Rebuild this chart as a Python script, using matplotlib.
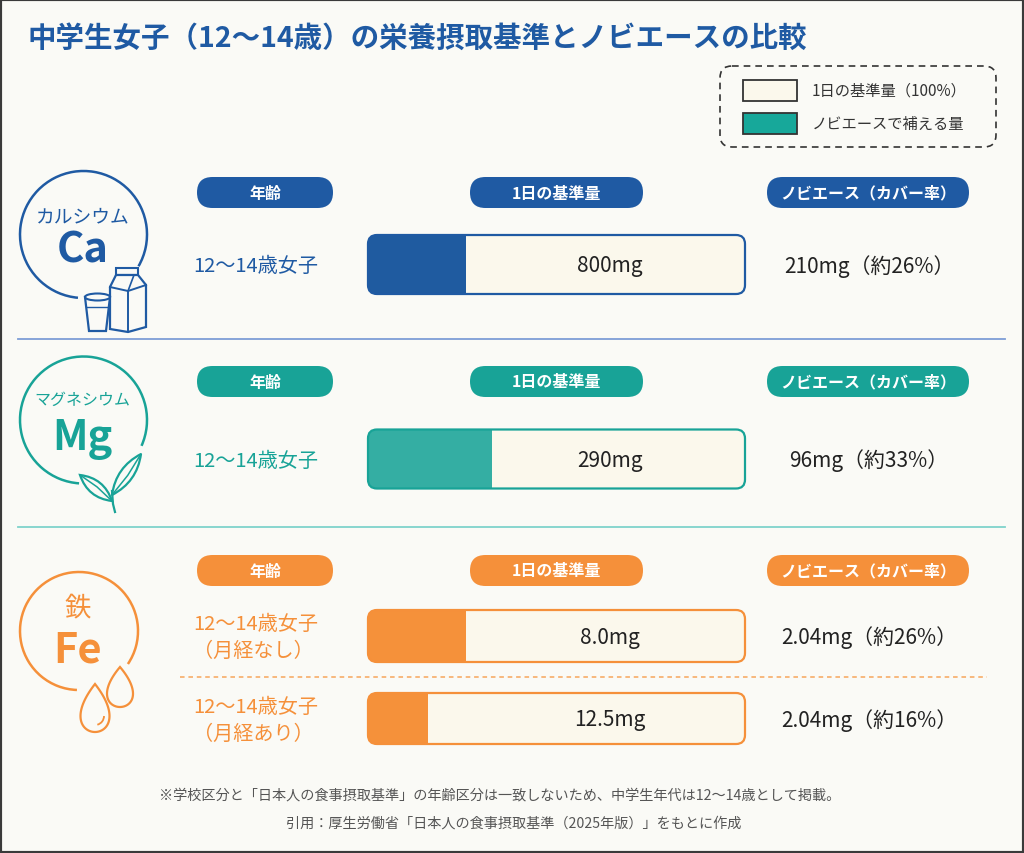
import numpy as np
import matplotlib.pyplot as plt
from matplotlib.patches import FancyBboxPatch, Arc, Rectangle, Polygon, Ellipse, PathPatch
from matplotlib.path import Path

plt.rcParams['font.family'] = ['Noto Sans CJK JP', 'DejaVu Sans']

# ---- data ----
title = '中学生女子（12～14歳）の栄養摂取基準とノビエースの比較'
nutrient_names = ['カルシウム', 'マグネシウム', '鉄']
nutrient_symbols = ['Ca', 'Mg', 'Fe']
header_labels = ['年齢', '1日の基準量', 'ノビエース（カバー率）']
row_nutrient = [0, 1, 2, 2]
row_labels = ['12～14歳女子', '12～14歳女子',
              '12～14歳女子\n（月経なし）', '12～14歳女子\n（月経あり）']
standard_text = ['800mg', '290mg', '8.0mg', '12.5mg']
noviace_mg = [210, 96, 2.04, 2.04]
coverage_pct = [26, 33, 26, 16]
legend_labels = ['1日の基準量（100%）', 'ノビエースで補える量']
notes = ['※学校区分と「日本人の食事摂取基準」の年齢区分は一致しないため、中学生年代は12～14歳として掲載。',
         '引用：厚生労働省「日本人の食事摂取基準（2025年版）」をもとに作成']

# ---- style ----
BG = '#FAFAF6'
CREAM = '#FBF8EC'
main_col = ['#1F5AA3', '#18A397', '#F5903A']
fill_col = ['#1F5BA0', '#34AEA3', '#F5913A']
line_col = ['#7D9DD6', '#7FD3CB', '#F7A65C']
TXT = '#222222'

fig = plt.figure(figsize=(10.24, 8.54), dpi=100)
fig.patch.set_facecolor(BG)
ax = fig.add_axes([0, 0, 1, 1])
ax.set_facecolor(BG)

# title
ax.text(27, 39, title, fontsize=20.5, fontweight='bold', color=main_col[0],
        ha='left', va='center')

# legend box
ax.add_patch(FancyBboxPatch((720, 67), 276, 81, boxstyle='round,pad=0,rounding_size=12',
                            fc='none', ec='#333333', lw=1.2, ls=(0, (4, 3))))
for i, (lab, fc) in enumerate(zip(legend_labels, [CREAM, '#17A89A'])):
    y = 91 + i * 33
    ax.add_patch(Rectangle((743, y - 10.5), 54, 21, fc=fc, ec='#333333', lw=1.3))
    ax.text(812, y, lab, fontsize=11, color='#333333', ha='left', va='center')

# header pills per section
pill_x = [(197, 333), (470, 643), (767, 969)]
pill_top = [178, 367, 556]
for g in range(3):
    for (x0, x1), lab in zip(pill_x, header_labels):
        ax.add_patch(FancyBboxPatch((x0, pill_top[g]), x1 - x0, 31,
                                    boxstyle='round,pad=0,rounding_size=15.5',
                                    fc=main_col[g], ec='none'))
        ax.text((x0 + x1) / 2, pill_top[g] + 15.5, lab, fontsize=11.5, fontweight='bold',
                color='white', ha='center', va='center')

# bars
bar_x0, bar_x1 = 368, 745
bar_w = bar_x1 - bar_x0
row_y = [265.5, 460, 637, 719.5]
row_h = [59, 59, 52, 51]
for i in range(len(row_labels)):
    g = row_nutrient[i]
    yc, h = row_y[i], row_h[i]
    track = FancyBboxPatch((bar_x0, yc - h / 2), bar_w, h,
                           boxstyle='round,pad=0,rounding_size=9', fc=CREAM, ec='none')
    ax.add_patch(track)
    bars = ax.barh(yc, coverage_pct[i] / 100 * bar_w, left=bar_x0, height=h,
                   color=fill_col[g], edgecolor='none')
    for b in bars:
        b.set_clip_path(track)
    ax.add_patch(FancyBboxPatch((bar_x0, yc - h / 2), bar_w, h,
                                boxstyle='round,pad=0,rounding_size=9',
                                fc='none', ec=main_col[g], lw=1.6))
    ax.text(610, yc + 1, standard_text[i], fontsize=15, color=TXT, ha='center', va='center')
    ax.text(869, yc + 1, f'{noviace_mg[i]:g}mg（約{coverage_pct[i]}%）', fontsize=15,
            color=TXT, ha='center', va='center')
    lines = row_labels[i].split('\n')
    for k, ln in enumerate(lines):
        ax.text(193, yc + 1 + (k - (len(lines) - 1) / 2) * 27, ln, fontsize=14.5,
                color=main_col[g], ha='left', va='center')

# section dividers
ax.plot([18, 1005], [339.5, 339.5], color=line_col[0], lw=1.3)
ax.plot([18, 1005], [528, 528], color=line_col[1], lw=1.3)
ax.plot([180, 987], [678, 678], color=line_col[2], lw=1.1, ls=(0, (3, 2.5)))

# nutrient badges
centers = [(83.5, 235.5), (83.5, 421), (79, 632)]
radii = [63.5, 63.5, 59]
gaps = [(30, 95), (24, 94), (34, 92)]
name_y = [217, 400, 608]
name_size = [13.5, 11.5, 19]
sym_base = [263, 450, 663]
for g in range(3):
    cx, cy = centers[g]
    r = radii[g]
    ax.add_patch(Arc((cx, cy), 2 * r, 2 * r, theta1=gaps[g][1], theta2=gaps[g][0] + 360,
                     color=main_col[g], lw=1.8))
    ax.text(cx - 1, name_y[g], nutrient_names[g], fontsize=name_size[g],
            color=main_col[g], ha='center', va='center')
    ax.text(cx - 1, sym_base[g], nutrient_symbols[g], fontsize=30, fontweight='bold',
            color=main_col[g], ha='center', va='baseline')

# milk carton + glass icon
c0 = main_col[0]
ax.add_patch(Rectangle((116, 269), 22, 7, fc=BG, ec=c0, lw=1.5))
ax.add_patch(Polygon([(110, 288), (116, 276), (138, 276), (146, 286), (146, 328),
                      (128, 333), (110, 330)], closed=True, fc=BG, ec=c0, lw=1.6))
ax.plot([110, 128, 146], [288, 292, 286], color=c0, lw=1.4)
ax.plot([128, 128], [292, 333], color=c0, lw=1.4)
ax.plot([128, 134], [292, 276], color=c0, lw=1.2)
ax.add_patch(Polygon([(85, 298), (110, 298), (106, 332), (89, 332)], closed=True,
                     fc=BG, ec=c0, lw=1.6))
ax.add_patch(Ellipse((97.5, 298), 25, 7, fc=BG, ec=c0, lw=1.5))
ax.plot([87, 108], [308, 308], color=c0, lw=1.0)


# leaf icon
def leaf(base, tip, w, col):
    b, t = np.array(base, float), np.array(tip, float)
    m = (b + t) / 2
    d = t - b
    n = np.array([-d[1], d[0]]) / np.hypot(*d)
    verts = [b, m + n * w, t, m - n * w, b, b]
    codes = [Path.MOVETO, Path.CURVE3, Path.CURVE3, Path.CURVE3, Path.CURVE3, Path.CLOSEPOLY]
    ax.add_patch(PathPatch(Path(verts, codes), fc=BG, ec=col, lw=1.6))
    ax.plot([b[0], m[0] + n[0] * 1.5, t[0]], [b[1], m[1] + n[1] * 1.5, t[1]], color=col, lw=1.1)


c1 = main_col[1]
leaf((112, 502), (80, 476), 13, c1)
leaf((112, 496), (141, 455), 13, c1)
ax.plot([115, 113, 112], [513, 505, 492], color=c1, lw=1.6)

# water drops
c2 = main_col[2]
t = np.linspace(0, 2 * np.pi, 200)
for cx, top, bot, half_w in [(120, 668, 708, 13), (95, 685, 733, 14.5)]:
    mid, hh = (top + bot) / 2, (bot - top) / 2
    xs = cx + half_w / 0.77 * np.sin(t) * np.sin(t / 2)
    ys = mid - hh * np.cos(t)
    ax.fill(xs, ys, fc=BG, ec=c2, lw=1.6)
ax.add_patch(Arc((95, 717), 18, 18, theta1=0, theta2=75, color=c2, lw=1.3))

# footnotes
ax.text(500, 795, notes[0], fontsize=10.2, color='#555555', ha='center', va='center')
ax.text(514, 824, notes[1], fontsize=10.2, color='#555555', ha='center', va='center')

# outer frame
ax.add_patch(Rectangle((0, 0), 1024, 854, fc='none', ec='#3A3A3A', lw=3))

ax.set_xlim(0, 1024)
ax.set_ylim(854, 0)
ax.axis('off')

fig.savefig('out.png', dpi=100, facecolor=BG)
